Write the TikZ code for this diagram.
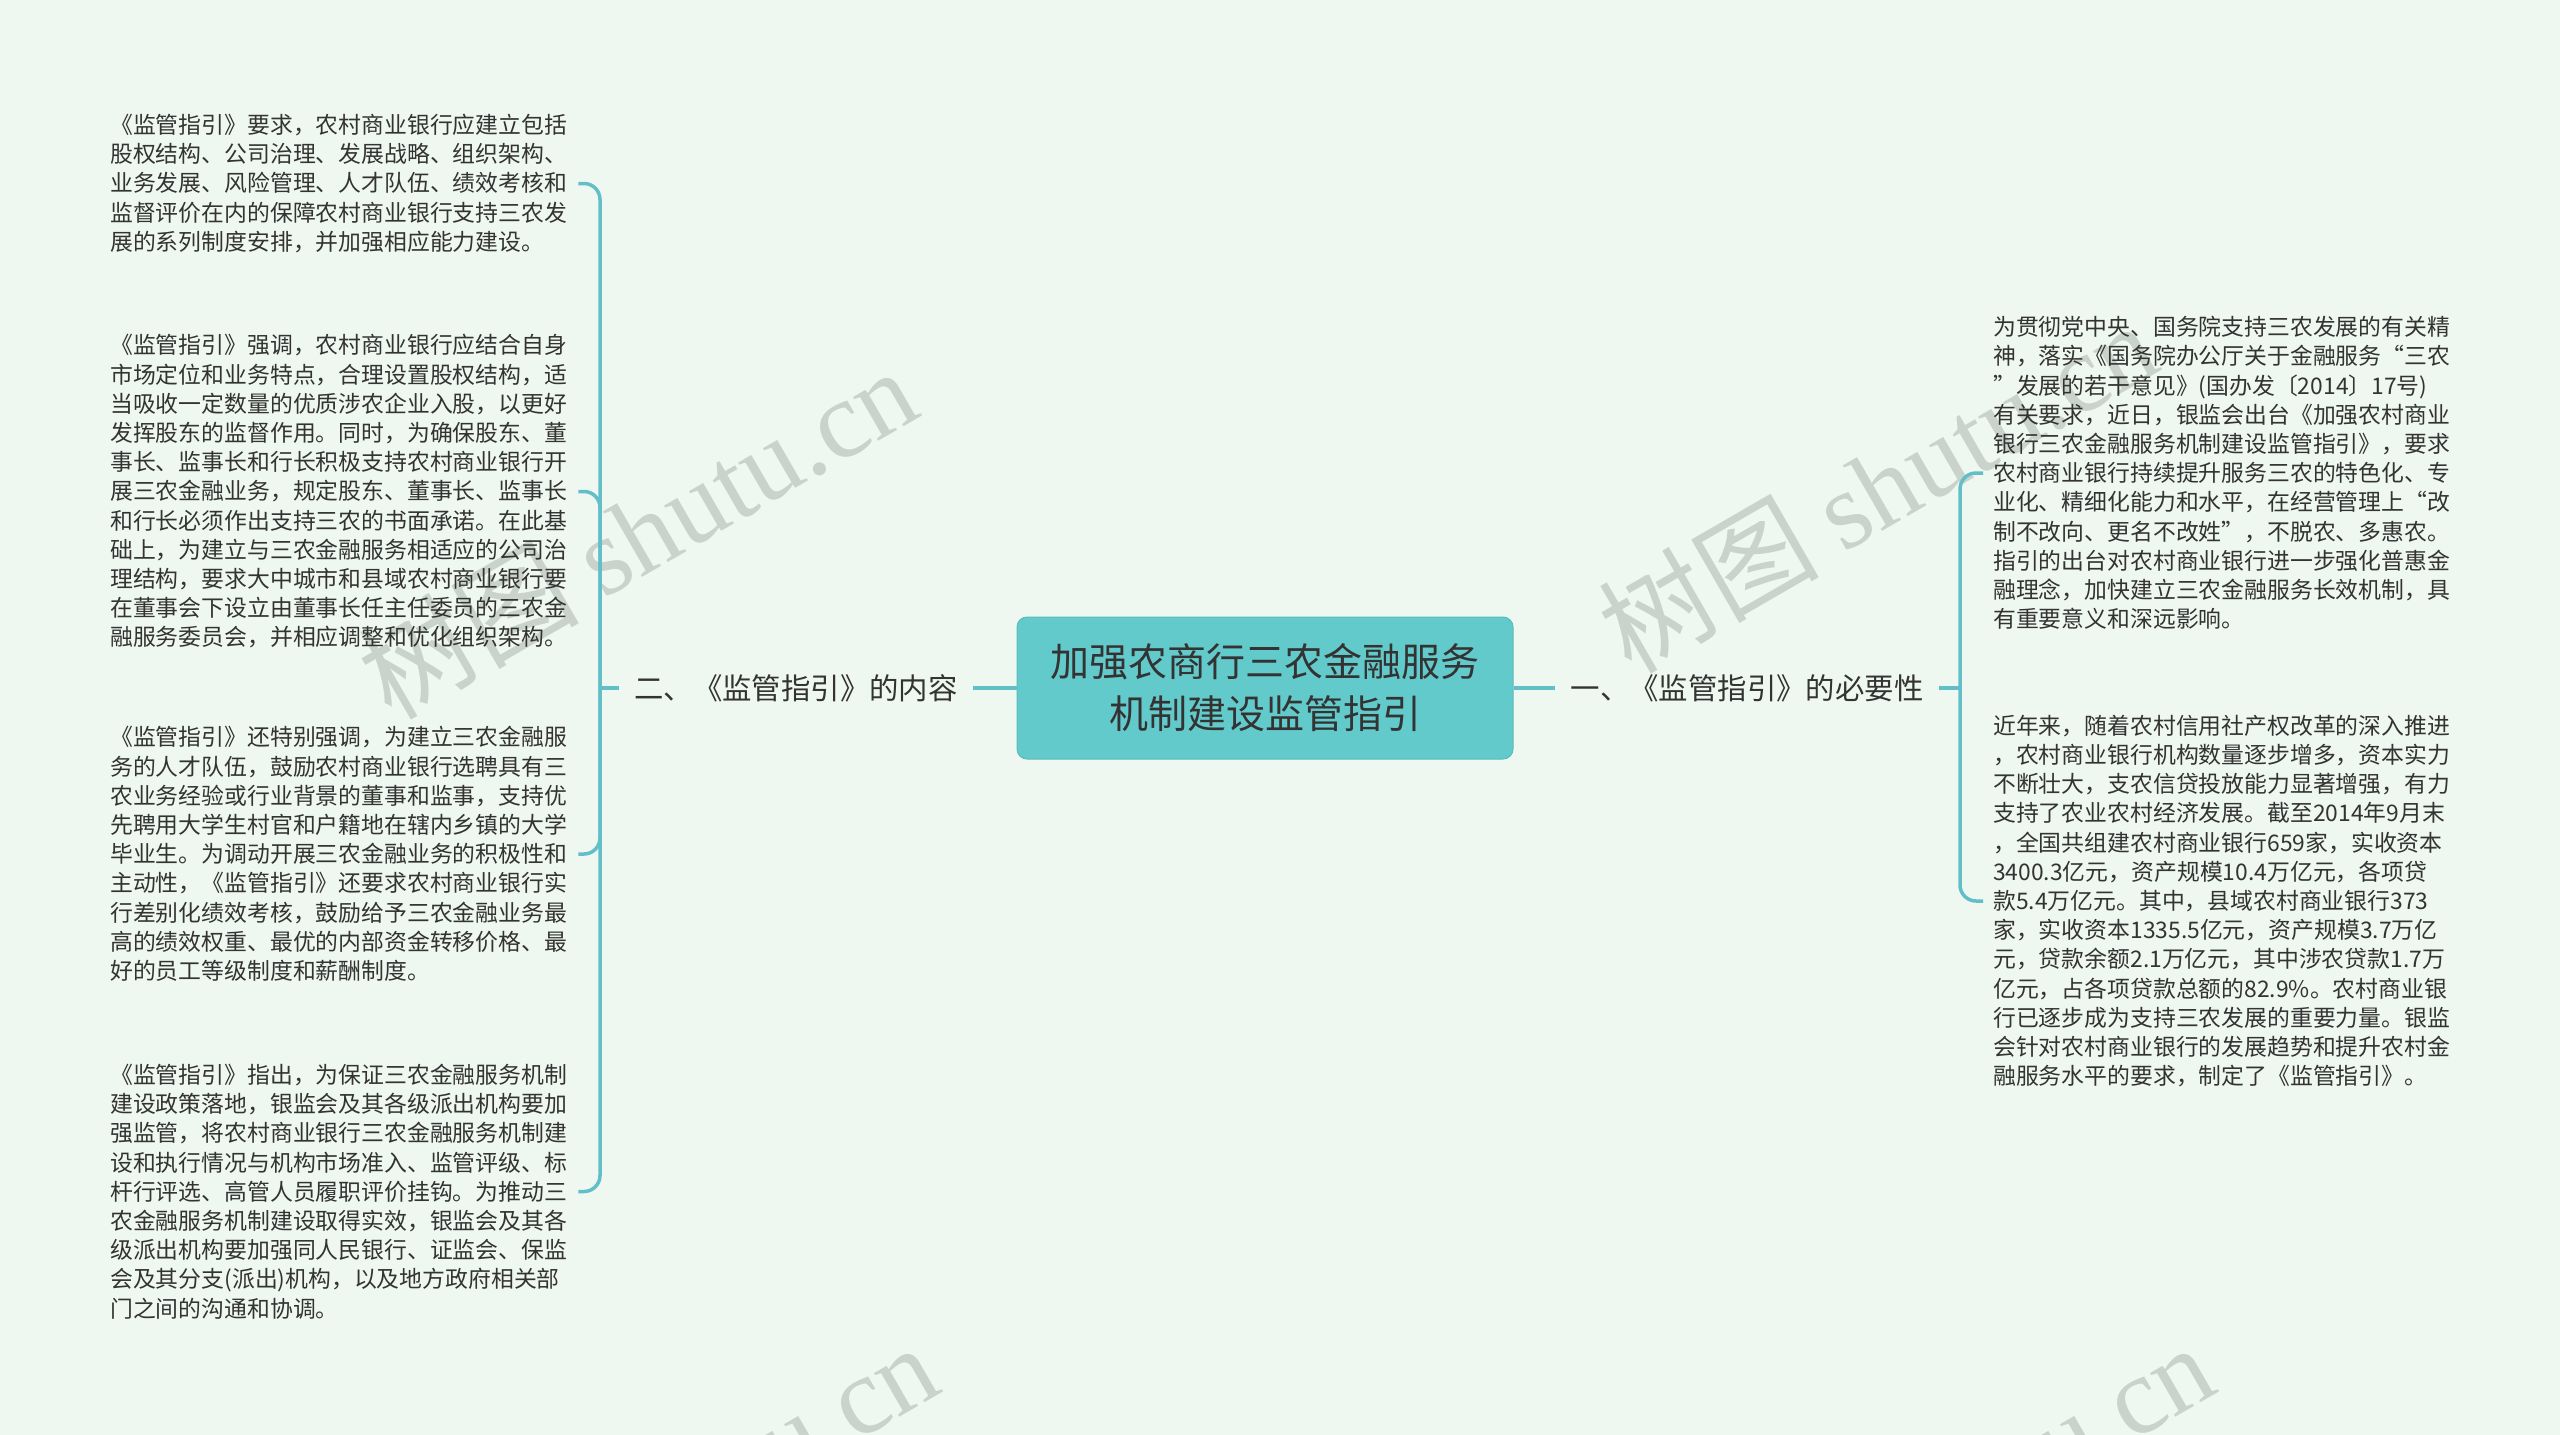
\documentclass[tikz,border=0pt]{standalone}
\usepackage{fontspec}
\setmainfont{Noto Sans CJK SC}
\newfontfamily\wmlatin{Liberation Serif}
\definecolor{bgmint}{HTML}{EFF8F0}
\definecolor{rootfill}{HTML}{63CACB}
\definecolor{linkteal}{HTML}{62BFC8}
\definecolor{inkgray}{HTML}{333333}
\definecolor{wmgray}{HTML}{C9D2CB}

\begin{document}
\begin{tikzpicture}[x=1pt, y=-1pt,
  root/.style={rectangle, rounded corners=10pt, fill=rootfill, draw=rootfill!92!black,
    line width=1pt, minimum width=496pt, minimum height=142pt, inner sep=0pt,
    align=center, text=inkgray, font=\fontsize{39pt}{52pt}\selectfont},
  topic/.style={inner xsep=15pt, inner ysep=4pt, text=inkgray,
    font=\fontsize{29.4pt}{36pt}\selectfont},
  leaf/.style={anchor=west, text width=458pt, inner xsep=10pt, inner ysep=0pt,
    align=left, text=inkgray, font=\fontsize{22.85pt}{29.2pt}\selectfont},
  link/.style={linkteal, line width=3.5pt},
  branch/.style={link, rounded corners=16pt},
  watermark/.style={rotate=30, text=wmgray, font=\fontsize{110pt}{110pt}\selectfont}
]
  % page and background
  \useasboundingbox (0,0) rectangle (2560,1435);
  \clip (0,0) rectangle (2560,1435);
  \fill[bgmint] (0,0) rectangle (2560,1435);

  % faint watermarks behind everything
  \node[watermark] (wm1) at (637,532) {树图 {\wmlatin shutu.cn}};
  \node[watermark] (wm2) at (1877,486) {树图 {\wmlatin shutu.cn}};
  \node[watermark] (wm3) at (658,1508) {树图 {\wmlatin shutu.cn}};
  \node[watermark] (wm4) at (1934,1508) {树图 {\wmlatin shutu.cn}};

  % central topic and the two main branches
  \node[root] (root) at (1265,688) {加强农商行三农金融服务\\机制建设监管指引};
  \node[topic] (partTwo) at (796,688) {二、《监管指引》的内容};
  \node[topic] (partOne) at (1747,688) {一、《监管指引》的必要性};

  % junctions where the brackets start
  \coordinate (jTwo) at (600,688);
  \coordinate (jOne) at (1960,688);

  % left leaves
  \node[leaf] (two1) at (100,183.5) {《监管指引》要求，农村商业银行应建立包括\\
股权结构、公司治理、发展战略、组织架构、\\
业务发展、风险管理、人才队伍、绩效考核和\\
监督评价在内的保障农村商业银行支持三农发\\
展的系列制度安排，并加强相应能力建设。};

  \node[leaf] (two2) at (100,491.5) {《监管指引》强调，农村商业银行应结合自身\\
市场定位和业务特点，合理设置股权结构，适\\
当吸收一定数量的优质涉农企业入股，以更好\\
发挥股东的监督作用。同时，为确保股东、董\\
事长、监事长和行长积极支持农村商业银行开\\
展三农金融业务，规定股东、董事长、监事长\\
和行长必须作出支持三农的书面承诺。在此基\\
础上，为建立与三农金融服务相适应的公司治\\
理结构，要求大中城市和县域农村商业银行要\\
在董事会下设立由董事长任主任委员的三农金\\
融服务委员会，并相应调整和优化组织架构。};

  \node[leaf] (two3) at (100,854) {《监管指引》还特别强调，为建立三农金融服\\
务的人才队伍，鼓励农村商业银行选聘具有三\\
农业务经验或行业背景的董事和监事，支持优\\
先聘用大学生村官和户籍地在辖内乡镇的大学\\
毕业生。为调动开展三农金融业务的积极性和\\
主动性，《监管指引》还要求农村商业银行实\\
行差别化绩效考核，鼓励给予三农金融业务最\\
高的绩效权重、最优的内部资金转移价格、最\\
好的员工等级制度和薪酬制度。};

  \node[leaf] (two4) at (100,1191.5) {《监管指引》指出，为保证三农金融服务机制\\
建设政策落地，银监会及其各级派出机构要加\\
强监管，将农村商业银行三农金融服务机制建\\
设和执行情况与机构市场准入、监管评级、标\\
杆行评选、高管人员履职评价挂钩。为推动三\\
农金融服务机制建设取得实效，银监会及其各\\
级派出机构要加强同人民银行、证监会、保监\\
会及其分支(派出)机构，以及地方政府相关部\\
门之间的沟通和协调。};

  % right leaves
  \node[leaf] (one1) at (1983,473) {为贯彻党中央、国务院支持三农发展的有关精\\
神，落实《国务院办公厅关于金融服务“三农\\
”发展的若干意见》(国办发〔2014〕17号)\\
有关要求，近日，银监会出台《加强农村商业\\
银行三农金融服务机制建设监管指引》，要求\\
农村商业银行持续提升服务三农的特色化、专\\
业化、精细化能力和水平，在经营管理上“改\\
制不改向、更名不改姓”，不脱农、多惠农。\\
指引的出台对农村商业银行进一步强化普惠金\\
融理念，加快建立三农金融服务长效机制，具\\
有重要意义和深远影响。};

  \node[leaf] (one2) at (1983,901) {近年来，随着农村信用社产权改革的深入推进\\
，农村商业银行机构数量逐步增多，资本实力\\
不断壮大，支农信贷投放能力显著增强，有力\\
支持了农业农村经济发展。截至2014年9月末\\
，全国共组建农村商业银行659家，实收资本\\
3400.3亿元，资产规模10.4万亿元，各项贷\\
款5.4万亿元。其中，县域农村商业银行373\\
家，实收资本1335.5亿元，资产规模3.7万亿\\
元，贷款余额2.1万亿元，其中涉农贷款1.7万\\
亿元，占各项贷款总额的82.9\%。农村商业银\\
行已逐步成为支持三农发展的重要力量。银监\\
会针对农村商业银行的发展趋势和提升农村金\\
融服务水平的要求，制定了《监管指引》。};

  % connectors
  \draw[link] (root) -- (partTwo);
  \draw[link] (root) -- (partOne);
  \draw[link] (partTwo) -- (jTwo);
  \draw[link] (partOne) -- (jOne);

  \foreach \leafname in {two1,two2,two3,two4}
    \draw[branch] (jTwo) |- (\leafname.east);
  \foreach \leafname in {one1,one2}
    \draw[branch] (jOne) |- (\leafname.west);

\end{tikzpicture}
\end{document}
